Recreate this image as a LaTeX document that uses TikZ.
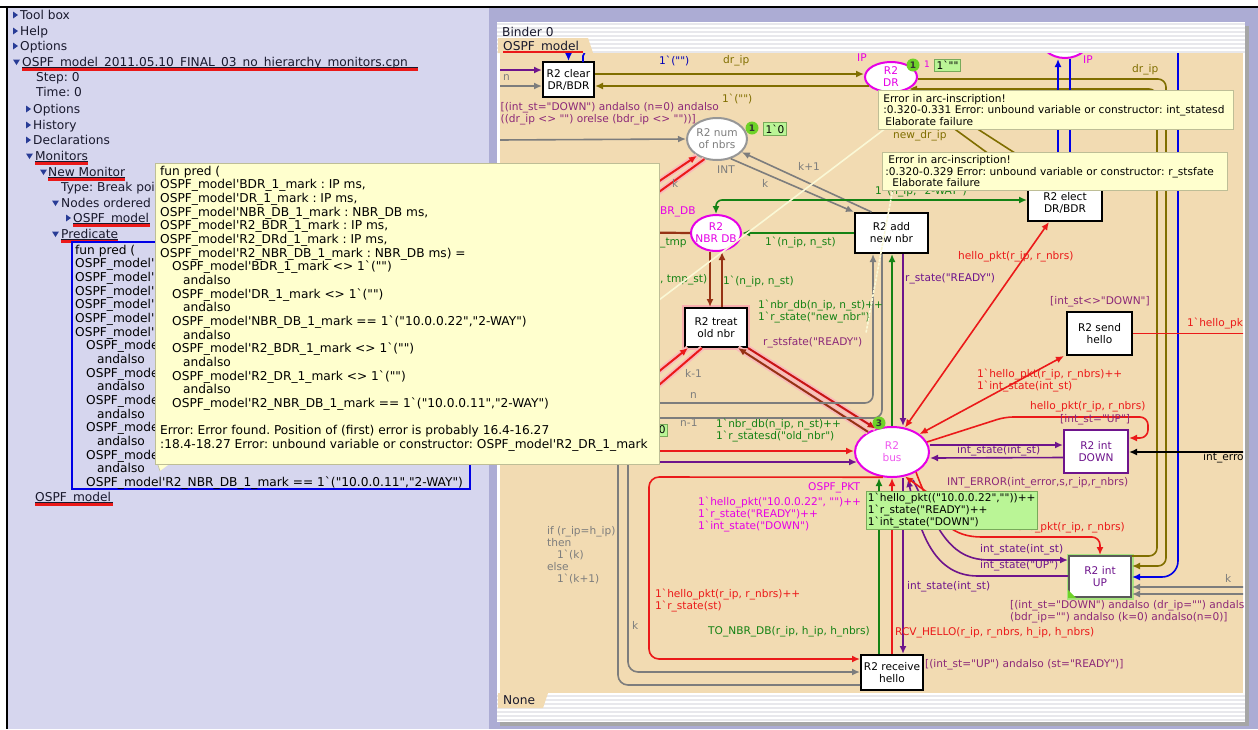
\documentclass[tikz,border=0pt]{standalone}
\usepackage{fontspec}
\setmainfont{DejaVu Sans}[Ligatures=TeXOff]
\usetikzlibrary{arrows.meta,shapes.geometric}

\definecolor{panel}{RGB}{214,214,238}
\definecolor{frame}{RGB}{172,172,212}
\definecolor{paper}{RGB}{242,219,178}
\definecolor{tip}{RGB}{255,255,206}
\definecolor{tipline}{RGB}{190,190,150}
\definecolor{tailc}{RGB}{250,248,214}
\definecolor{tokfill}{RGB}{186,245,150}
\definecolor{tokline}{RGB}{120,170,90}
\definecolor{tokdot}{RGB}{110,210,40}
\definecolor{olv}{RGB}{128,110,0}
\definecolor{pur}{RGB}{110,20,140}
\definecolor{mag}{RGB}{230,0,230}
\definecolor{cred}{RGB}{235,25,25}
\definecolor{cgreen}{RGB}{20,130,20}
\definecolor{cgray}{RGB}{125,125,125}
\definecolor{brn}{RGB}{150,50,20}
\definecolor{grd}{RGB}{140,40,120}
\definecolor{treeblue}{RGB}{40,60,150}
\definecolor{treetext}{RGB}{25,25,45}
\definecolor{cblue}{RGB}{0,0,230}
\definecolor{stripe}{RGB}{232,232,236}

\newcommand\cpnfont{\fontsize{10.6}{12}\selectfont}
\newcommand\treefont{\fontsize{12.2}{15}\selectfont}
\newcommand\tipfont{\fontsize{12.2}{13.67}\selectfont}
\newcommand\errfont{\fontsize{10.6}{11.6}\selectfont}

\begin{document}
\frenchspacing
\begin{tikzpicture}[x=1pt,y=-1pt,
  trans/.style={draw=black,line width=2pt,fill=white,inner sep=0pt,align=center,font=\cpnfont,text=black},
  place/.style={ellipse,draw=mag,line width=2pt,fill=white,inner sep=-6pt,align=center,font=\cpnfont,text=mag},
  arc/.style={line width=1.6pt,-{Latex[length=8pt,width=7pt]}},
  arcboth/.style={line width=1.6pt,{Latex[length=8pt,width=7pt]}-{Latex[length=8pt,width=7pt]}},
  glow/.style={line width=5.5pt,cred!30},
  lbl/.style={inner sep=0pt,font=\cpnfont,anchor=west,align=left},
  tree/.style={inner sep=0pt,font=\treefont,anchor=base west,text=treetext},
  tipln/.style={inner sep=0pt,font=\tipfont,anchor=base west,text=black},
  tokdotst/.style={circle,fill=tokdot,inner sep=0pt,minimum size=13pt,font=\fontsize{9}{9}\selectfont\bfseries,text=black!80},
  tokbox/.style={fill=tokfill,draw=tokline,line width=0.6pt,inner sep=2pt,font=\cpnfont,text=black,align=left},
  cvtip/.style={fill=tip,draw=tipline,line width=0.6pt,inner sep=0pt,font=\errfont,text=black,align=left,anchor=north west},
  tail/.style={draw=tailc,line width=1.6pt},
  redmark/.style={cred,line width=2.2pt}
]
\useasboundingbox (0,0) rectangle (1258,729);

% ---------- window background ----------
\fill[white] (0,0) rectangle (1258,729);
\fill[panel] (7,7) rectangle (1258,729);
\fill[frame] (489,7) rectangle (1258,729);
\draw[black,line width=1.5pt] (0,7) -- (1258,7);
\draw[black,line width=1.5pt] (7,7) -- (7,729);

% ---------- index tree ----------
\newcommand\rtri[2]{\fill[treeblue] (#1,#2-3.5) -- (#1+5,#2) -- (#1,#2+3.5) -- cycle;}
\newcommand\dtri[2]{\fill[treeblue] (#1,#2-2.5) -- (#1+7,#2-2.5) -- (#1+3.5,#2+3) -- cycle;}
\rtri{13}{15}  \node[tree] (tToolbox) at (20,19.5) {Tool box};
\rtri{13}{31}  \node[tree] (tHelp) at (20,35.5) {Help};
\rtri{13}{46}  \node[tree] (tOptions) at (20,50.5) {Options};
\dtri{13}{62}  \node[tree] (tNet) at (22,66.5) {OSPF\_model\_2011.05.10\_FINAL\_03\_no\_hierarchy\_monitors.cpn};
\node[tree] (tStep) at (36,81.5) {Step: 0};
\node[tree] (tTime) at (36,96.5) {Time: 0};
\rtri{26}{109} \node[tree] (tOpt2) at (33,113.5) {Options};
\rtri{26}{125} \node[tree] (tHist) at (33,129.5) {History};
\rtri{26}{140} \node[tree] (tDecl) at (33,144.5) {Declarations};
\dtri{26}{156} \node[tree] (tMon) at (35,160.5) {Monitors};
\dtri{40}{172} \node[tree] (tNewMon) at (48,176.5) {New Monitor};
\begin{scope}
\clip (50,180) rectangle (155,212);
\node[tree] (tType) at (61,191.5) {Type: Break poi};
\node[tree] (tNodes) at (61,207.5) {Nodes ordered};
\end{scope}
\dtri{52}{203}
\rtri{66}{218} \node[tree] (tPage) at (73,222.5) {OSPF\_model};
\dtri{52}{234} \node[tree] (tPred) at (61,238.5) {Predicate};
\node[tree] (tPage2) at (35,501.5) {OSPF\_model};
% link underlines and red marks
\foreach \xa/\xb/\yy in {22/418/62, 35/88/156, 48/125/172, 73/150/218, 61/118/234, 35/113/497}{
  \draw[treetext,line width=0.6pt] (\xa,\yy+5.5) -- (\xb,\yy+5.5);
  \draw[redmark] (\xa,\yy+7.5) -- (\xb,\yy+7.5);
}

% predicate editor box (its right part lies under the error bubble)
\draw[cblue,line width=1.5pt] (72,242) rectangle (470,489);
\begin{scope}
\clip (73,243) rectangle (155,464);
\foreach \txt [count=\i from 0] in {
  {fun pred (},
  {OSPF\_model'B},
  {OSPF\_model'D},
  {OSPF\_model'N},
  {OSPF\_model'R},
  {OSPF\_model'R},
  {OSPF\_model'R},
  {\hspace*{11pt}OSPF\_model},
  {\hspace*{22pt}andalso},
  {\hspace*{11pt}OSPF\_model},
  {\hspace*{22pt}andalso},
  {\hspace*{11pt}OSPF\_model},
  {\hspace*{22pt}andalso},
  {\hspace*{11pt}OSPF\_model},
  {\hspace*{22pt}andalso},
  {\hspace*{11pt}OSPF\_model}}
  {\node[tipln] (pb\i) at (75,254+13.67*\i) {\txt};}
\end{scope}
\node[tipln] (pb16) at (75,254+13.67*16) {\hspace*{22pt}andalso};
\node[tipln] (pb17) at (75,254+13.67*17) {\hspace*{11pt}OSPF\_model'R2\_NBR\_DB\_1\_mark == 1`("10.0.0.11","2-WAY")};

% ---------- binder window ----------
\fill[black!35] (500,26) rectangle (1249,726);
\fill[white] (497,22) rectangle (1245,722);
\foreach \yy in {24,28,...,52} {\draw[stripe,line width=1.4pt] (497,\yy) -- (1245,\yy);}
\foreach \yy in {696,700,...,720} {\draw[stripe,line width=1.4pt] (497,\yy) -- (1245,\yy);}
\node[tree] (binder) at (502,36.5) {Binder 0};
\fill[paper] (498,38) -- (588,38) -- (593,53) -- (498,53) -- cycle;
\node[tree] (tabPage) at (503,50) {OSPF\_model};
\draw[redmark] (503,52.5) -- (583,52.5);
\fill[paper] (500,53) rectangle (1243,693);
\fill[paper] (498,693) -- (548,693) -- (543,708) -- (498,708) -- cycle;
\node[tree] (tabNone) at (503,704.5) {None};

% ---------- page content ----------
\begin{scope}
\clip (500,53) rectangle (1243,693);

% places and transitions
\node[place,minimum width=52pt,minimum height=44pt] (ipplace) at (1065,36) {};
\node[place,minimum width=52pt,minimum height=30pt] (dr) at (891,77) {R2\\DR};
\node[place,draw=cgray!80,text=cgray,minimum width=60pt,minimum height=42pt] (num) at (717,139) {R2 num\\of nbrs};
\node[place,minimum width=50pt,minimum height=36pt] (nbrdb) at (716,233) {R2\\NBR DB};
\node[place,text=mag!65,minimum width=74pt,minimum height=50pt] (bus) at (892,452) {R2\\bus};

\draw[cred!35,line width=6pt] (685,308) rectangle (747,347);
\draw[tokdot!60,line width=5pt] (1069,556) rectangle (1131,597);
\node[trans,minimum width=51pt,minimum height=35pt] (clear) at (568.5,79.5) {R2 clear\\DR/BDR};
\node[trans,minimum width=73pt,minimum height=40pt] (add) at (891.5,233) {R2 add\\new nbr};
\node[trans,minimum width=74pt,minimum height=36pt] (elect) at (1065,203) {R2 elect\\DR/BDR};
\node[trans,minimum width=62pt,minimum height=39pt] (treat) at (716,327.5) {R2 treat\\old nbr};
\node[trans,minimum width=65pt,minimum height=43pt] (send) at (1099.5,333.5) {R2 send\\hello};
\node[trans,draw=pur,text=pur,minimum width=64pt,minimum height=43pt] (down) at (1096,451.5) {R2 int\\DOWN};
\node[trans,draw=black!65,text=pur,minimum width=62pt,minimum height=41pt] (up) at (1100,576.5) {R2 int\\UP};
\fill[tokdot] (up.south west) -- ++(8,0) -- ++(-8,-8) -- cycle;
\node[trans,minimum width=62pt,minimum height=35pt] (recv) at (892,672.5) {R2 receive\\hello};

% free arc ends at the page border
\coordinate (inP) at (498,70);
\coordinate (inN) at (498,86);
\coordinate (inB) at (568.5,48);
\coordinate (inK) at (498,140);
\coordinate (rk1) at (652,186);
\coordinate (rk2) at (652,197);
\coordinate (tmpL) at (600,232);
\coordinate (rt1) at (652,377);
\coordinate (rt2) at (652,391);
\coordinate (nL) at (600,403);
\coordinate (n1L) at (600,418);
\coordinate (lR) at (600,451);
\coordinate (lP) at (600,462);
\coordinate (g1) at (618,440);
\coordinate (g2) at (628,440);
\coordinate (sendOut) at (1250,333.5);
\coordinate (errIn) at (1250,452);
\coordinate (kIn1) at (1250,587);
\coordinate (kIn2) at (1250,594);
\coordinate (ie) at (945,505);

% arcs around R2 clear DR/BDR
\draw[arc,pur] (inP) -- ([yshift=9.5pt]clear.west);
\draw[arc,cgray] (inN) -- ([yshift=-6.5pt]clear.west);
\draw[arc,cblue] (inB) -- (clear.north);
\draw[cblue,line width=1.6pt] (585,52) -- (583,56) -- (583,62);
\draw[arc,olv] ([yshift=5.5pt]clear.east) -- ([yshift=3pt]dr.west);
\draw[arc,olv] ([xshift=5pt,yshift=-9pt]dr.west) -- ([yshift=-6.5pt]clear.east);

% arcs around R2 num of nbrs
\draw[arc,cgray] (inK) -- (num.west);
\draw[glow] (rk1) -- (num.220);
\draw[glow] (rk2) -- (num.238);
\draw[arc,cred,line width=2pt] (rk1) -- (num.220);
\draw[cred,line width=2pt] (rk2) -- (num.238);
\draw[arc,cgray] ([xshift=-20pt]add.north) -- (num.-28);
\draw[arc,cgray] (num.-55) -- (add.north west);

% NBR DB
\draw[arcboth,cgreen,rounded corners=6pt] ([yshift=3pt]elect.west) -| (nbrdb.north);
\draw[arc,cgreen] (add.west) -- (nbrdb.east);
\draw[brn,line width=2.2pt] (tmpL) -- (nbrdb.west);
\draw[arc,brn,line width=2pt] ([xshift=-6pt]nbrdb.south) -- ([xshift=-6pt]treat.north);
\draw[arc,brn,line width=2pt] ([xshift=6pt]treat.north) -- ([xshift=6pt]nbrdb.south);

% DR to elect and int UP
\draw[arc,olv] (dr.-50) -- ([xshift=-35pt]elect.north);
\draw[arc,olv] ([xshift=-2pt]elect.north) -- (dr.-25);
\draw[arc,olv,rounded corners=8pt] ([yshift=-2pt]dr.east) -- (1166,79) -- (1166,566) -- ([yshift=10.5pt]up.east);
\draw[arc,olv,rounded corners=8pt] ([yshift=20.5pt]up.east) -- (1157,556) -- (1157,89) -- ([xshift=-9pt,yshift=-12pt]dr.east);

% blue arcs from the IP place
\draw[arc,cblue] ([xshift=-7pt]elect.north) -- ([xshift=-7pt]ipplace.south);
\draw[arc,cblue] ([xshift=5pt]ipplace.south) -- ([xshift=5pt]elect.north);
\draw[arc,cblue,rounded corners=16pt] (ipplace.east) -- (1178,36) -- (1178,577) -- ([yshift=-0.5pt]up.east);

% R2 treat old nbr with the bus
\draw[glow] (rt1) -- ([xshift=-28pt]treat.south);
\draw[glow] (rt2) -- ([xshift=-14pt]treat.south);
\draw[arc,cred,line width=2pt] (rt1) -- ([xshift=-28pt]treat.south);
\draw[cred,line width=2pt] (rt2) -- ([xshift=-14pt]treat.south);
\draw[glow] (treat.south east) -- (bus.125);
\draw[glow] (bus.140) -- ([xshift=-10pt]treat.south east);
\draw[arc,cred!85!black,line width=2pt] (treat.south east) -- (bus.125);
\draw[arc,brn,line width=2pt] (bus.140) -- ([xshift=-10pt]treat.south east);

% counters n and n-1
\draw[arc,cgray,rounded corners=8pt] (nL) -| ([xshift=-18.5pt]add.south);
\draw[cgray,line width=1.6pt,rounded corners=8pt] ([xshift=-9.5pt]add.south) |- (n1L);

% arcs between the bus and R2 add new nbr
\draw[arc,pur] ([xshift=11.5pt]add.south) -- ([xshift=11pt]bus.north);
\draw[arc,cgreen] (bus.north) -- ([xshift=0.5pt]add.south);

% arcs from the left into the bus
\draw[arc,cred,line width=2pt] (lR) -- ([yshift=1pt]bus.west);
\draw[arc,pur,line width=2pt] (lP) -- ([xshift=3pt,yshift=-10pt]bus.west);

% red arcs on the right of the bus
\draw[arcboth,cred] (bus.62) -- ([xshift=-16pt]elect.south);
\draw[arcboth,cred] (bus.33) -- ([xshift=-2pt]send.south west);
\draw[arc,cred,rounded corners=8pt] (bus.16) -- (1005,417) -- (1148,417) -- (1148,438) -- ([yshift=13.5pt]down.east);
\draw[cred,line width=1.6pt] (send.east) -- (sendOut);

% int DOWN
\draw[arc,pur] ([yshift=7pt]bus.east) -- ([yshift=6.5pt]down.west);
\draw[arc,pur] ([yshift=-6pt]down.west) -- ([yshift=-6pt]bus.east);
\draw[arc,black] (errIn) -- ([yshift=-0.5pt]down.east);

% int UP
\draw[arc,cgray] (kIn1) -- ([yshift=-10.5pt]up.east);
\draw[arc,cgray] (kIn2) -- ([yshift=-17.5pt]up.east);
\draw[arc,pur] ([xshift=21pt,yshift=-2pt]bus.south) .. controls (940,535) and (952,560) .. (990,560) -- ([yshift=16.5pt]up.west);
\draw[arc,pur] ([yshift=0.5pt]up.west) -- (978,576) .. controls (935,576) and (920,535) .. ([xshift=16pt,yshift=-1pt]bus.south);
\draw[arc,cred,rounded corners=8pt] (bus.-40) .. controls (935,525) and (955,537) .. (990,537) -- (1100,537) -- (up.north);
\draw[arc,cred] (ie) -- (bus.-62);

% R2 receive hello
\draw[arc,cred,rounded corners=10pt] (bus.250) -- (649,477) -- (649,659) -- ([yshift=13.5pt]recv.west);
\draw[arc,cred] (recv.north) -- (bus.south);
\draw[arc,cgreen] ([xshift=-13pt]recv.north) -- ([xshift=-13pt]bus.south);
\draw[arc,pur] ([xshift=11pt]bus.south) -- ([xshift=11pt]recv.north);
\draw[cgray,line width=1.6pt,rounded corners=10pt] (g1) |- ([yshift=-12.5pt]recv.west);
\draw[arc,cgray,rounded corners=10pt] (g2) |- ([yshift=0.5pt]recv.west);

% markings
\node[tokdotst] (drdot) at (913,65) {1};
\node[lbl,text=mag,font=\fontsize{9}{9}\selectfont] (drcnt) at (924,64) {1};
\node[tokbox] (drmark) at (947.5,65.5) {1`""};
\node[tokdotst] (numdot) at (752,128) {1};
\node[tokbox] (nummark) at (775,129) {1`0};
\node[tokbox,anchor=east] (lmark) at (668,430) {0};
\node[tokdotst] (busdot) at (879,423) {3};

% inscriptions
\node[lbl,text=cgray] (l1) at (503,78) {n};
\node[lbl,text=cblue!80!black] (l2) at (659,61) {1`("")};
\node[lbl,text=olv] (l3) at (723,61) {dr\_ip};
\node[lbl,text=mag] (l4) at (857,58) {IP};
\node[lbl,text=olv] (l5) at (722,99) {1`("")};
\node[lbl,text=grd] (l6) at (500.5,114) {[(int\_st="DOWN") andalso (n=0) andalso\\((dr\_ip <> "") orelse (bdr\_ip <> ""))]};
\node[lbl,text=cgray] (l7) at (717,170) {INT};
\node[lbl,text=cgray] (l8) at (798,166) {k+1};
\node[lbl,text=cgray] (l9) at (762,183) {k};
\node[lbl,text=cgray] (l10) at (672,183) {k};
\node[lbl,text=mag] (l11) at (660,212) {BR\_DB};
\node[lbl,text=cgreen] (l12) at (660,243) {\_tmp};
\node[lbl,text=cgreen] (l13) at (660,280) {, tmp\_st)};
\node[lbl,text=cgreen] (l14) at (723,282) {1`(n\_ip, n\_st)};
\node[lbl,text=cgreen] (l15) at (765,243) {1`(n\_ip, n\_st)};
\node[lbl,text=olv] (l16) at (893,136) {new\_dr\_ip};
\node[lbl,text=olv] (l17) at (1132,70) {dr\_ip};
\node[lbl,text=mag] (l18) at (1083,60) {IP};
\node[lbl,text=cgreen] (l19) at (875,192) {1`(n\_ip, "2-WAY")};
\node[lbl,text=cred] (l20) at (958,257) {hello\_pkt(r\_ip, r\_nbrs)};
\node[lbl,text=pur] (l21) at (905,279) {r\_state("READY")};
\node[lbl,text=grd] (l22) at (1050,302) {[int\_st<>"DOWN"]};
\node[lbl,text=cred] (l23) at (1187,324) {1`hello\_pk};
\node[lbl,text=cred] (l24) at (977,381) {1`hello\_pkt(r\_ip, r\_nbrs)++\\1`int\_state(int\_st)};
\node[lbl,text=cred] (l25) at (1030,407) {hello\_pkt(r\_ip, r\_nbrs)};
\node[lbl,text=grd] (l26) at (1060,420) {[int\_st="UP"]};
\node[lbl,text=pur] (l27) at (957,451) {int\_state(int\_st)};
\node[lbl,text=black] (l28) at (1203,458) {int\_erro};
\node[lbl,text=grd] (l29) at (947,483) {INT\_ERROR(int\_error,s,r\_ip,r\_nbrs)};
\node[lbl,text=cred,anchor=east] (l30) at (1125,528) {hello\_pkt(r\_ip, r\_nbrs)};
\node[lbl,text=pur] (l31) at (980,550) {int\_state(int\_st)};
\node[lbl,text=pur] (l32) at (980,566) {int\_state("UP")};
\node[lbl,text=cgray] (l33) at (1225,578) {k};
\node[lbl,text=grd] (l34) at (1010,612) {[(int\_st="DOWN") andalso (dr\_ip="") andals\\(bdr\_ip="") andalso (k=0) andalso(n=0)]};
\node[lbl,text=pur] (l35) at (907,587) {int\_state(int\_st)};
\node[lbl,text=cred] (l36) at (895,633) {RCV\_HELLO(r\_ip, r\_nbrs, h\_ip, h\_nbrs)};
\node[lbl,text=grd] (l37) at (925,665) {[(int\_st="UP") andalso (st="READY")]};
\node[lbl,text=cgreen] (l38) at (708,632) {TO\_NBR\_DB(r\_ip, h\_ip, h\_nbrs)};
\node[lbl,text=cred] (l39) at (655,600) {1`hello\_pkt(r\_ip, r\_nbrs)++\\1`r\_state(st)};
\node[lbl,text=cgray] (l40) at (632,625) {k};
\node[lbl,text=cgray] (l41) at (547,555) {if (r\_ip=h\_ip)\\then\\\hspace*{10pt}1`(k)\\else\\\hspace*{10pt}1`(k+1)};
\node[lbl,text=mag] (l42) at (808,488) {OSPF\_PKT};
\node[lbl,text=mag] (l43) at (698,514) {1`hello\_pkt("10.0.0.22", "")++\\1`r\_state("READY")++\\1`int\_state("DOWN")};
\node[lbl,text=grd] (l44) at (763,343) {r\_stsfate("READY")};
\node[lbl,text=cgreen] (l45) at (758,312) {1`nbr\_db(n\_ip, n\_st)++\\1`r\_state("new\_nbr")};
\node[lbl,text=cgreen] (l46) at (716,431) {1`nbr\_db(n\_ip, n\_st)++\\1`r\_statesd("old\_nbr")};
\node[lbl,text=cgray] (l47) at (680,423) {n-1};
\node[lbl,text=cgray] (l48) at (690,396) {n};
\node[lbl,text=cgray] (l49) at (685,373) {k-1};

% current marking of the bus
\node[tokbox,anchor=north west,inner sep=1.5pt] (busmark) at (866,491) {1`hello\_pkt(("10.0.0.22",""))++\\1`r\_state("READY")++\\1`int\_state("DOWN")};

% error bubbles on the page
\draw[tail] (886,128) -- (659,300);
\draw[tail,dash pattern=on 3pt off 1pt] (893,188) -- (866,333);
\node[cvtip,minimum width=355pt,minimum height=39pt,text width=351pt] (err1) at (878,90)
  {\hspace*{3pt}Error in arc-inscription!\\\hspace*{3pt}:0.320-0.331 Error: unbound variable or constructor: int\_statesd\\\hspace*{5pt}Elaborate failure};
\node[cvtip,minimum width=345pt,minimum height=38pt,text width=341pt] (err2) at (882,152)
  {\hspace*{4pt}Error in arc-inscription!\\\hspace*{1pt}:0.320-0.329 Error: unbound variable or constructor: r\_stsfate\\\hspace*{8pt}Elaborate failure};
\end{scope}

% ---------- predicate error bubble ----------
\fill[tip] (157,462) -- (172,462) -- (160,471) -- cycle;
\draw[tipline,line width=0.6pt] (160,471) -- (157,462);
\node[draw=tipline,fill=tip,line width=0.6pt,anchor=north west,minimum width=504pt,minimum height=301pt,inner sep=0pt] (predtip) at (155,163) {};
\foreach \txt [count=\i from 0] in {
  {fun pred (},
  {OSPF\_model'BDR\_1\_mark : IP ms,},
  {OSPF\_model'DR\_1\_mark : IP ms,},
  {OSPF\_model'NBR\_DB\_1\_mark : NBR\_DB ms,},
  {OSPF\_model'R2\_BDR\_1\_mark : IP ms,},
  {OSPF\_model'R2\_DRd\_1\_mark : IP ms,},
  {OSPF\_model'R2\_NBR\_DB\_1\_mark : NBR\_DB ms) =},
  {\hspace*{12pt}OSPF\_model'BDR\_1\_mark <> 1`("")},
  {\hspace*{23pt}andalso},
  {\hspace*{12pt}OSPF\_model'DR\_1\_mark <> 1`("")},
  {\hspace*{23pt}andalso},
  {\hspace*{12pt}OSPF\_model'NBR\_DB\_1\_mark == 1`("10.0.0.22","2-WAY")},
  {\hspace*{23pt}andalso},
  {\hspace*{12pt}OSPF\_model'R2\_BDR\_1\_mark <> 1`("")},
  {\hspace*{23pt}andalso},
  {\hspace*{12pt}OSPF\_model'R2\_DR\_1\_mark <> 1`("")},
  {\hspace*{23pt}andalso},
  {\hspace*{12pt}OSPF\_model'R2\_NBR\_DB\_1\_mark == 1`("10.0.0.11","2-WAY")},
  {},
  {Error: Error found. Position of (first) error is probably 16.4-16.27},
  {:18.4-18.27 Error: unbound variable or constructor: OSPF\_model'R2\_DR\_1\_mark}}
  {\node[tipln] (pt\i) at (160,175+13.67*\i) {\txt};}
\end{tikzpicture}
\end{document}
